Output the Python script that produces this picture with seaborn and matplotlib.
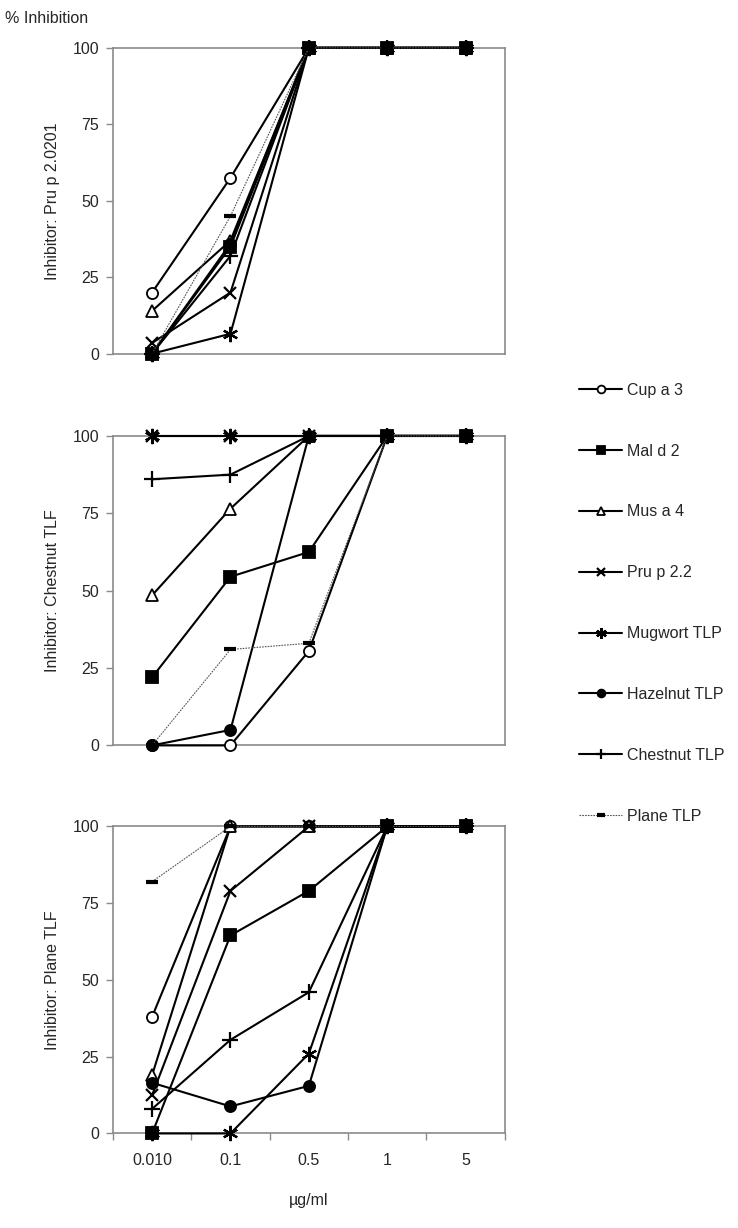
import pandas as pd
import seaborn as sns
import matplotlib.pyplot as plt
from matplotlib.lines import Line2D

# concentrations (categorical x axis)
conc = ["0.010", "0.1", "0.5", "1", "5"]
allergens = ["Cup a 3", "Mal d 2", "Mus a 4", "Pru p 2.2",
             "Mugwort TLP", "Hazelnut TLP", "Chestnut TLP", "Plane TLP"]

# % inhibition, inhibitor Pru p 2.0201
pru_cup = [20, 57.5, 100, 100, 100]
pru_mal = [0, 35, 100, 100, 100]
pru_mus = [14, 37, 100, 100, 100]
pru_pru = [3.5, 20, 100, 100, 100]
pru_mug = [0, 6.5, 100, 100, 100]
pru_haz = [0, 36, 100, 100, 100]
pru_che = [0, 32, 100, 100, 100]
pru_pla = [0, 45, 100, 100, 100]

# inhibitor Chestnut TLF
che_cup = [0, 0, 30.5, 100, 100]
che_mal = [22, 54.5, 62.5, 100, 100]
che_mus = [48.5, 76.5, 100, 100, 100]
che_pru = [100, 100, 100, 100, 100]
che_mug = [100, 100, 100, 100, 100]
che_haz = [0, 5, 100, 100, 100]
che_che = [86, 87.5, 100, 100, 100]
che_pla = [0, 31, 33, 100, 100]

# inhibitor Plane TLF
pla_cup = [38, 100, 100, 100, 100]
pla_mal = [0, 64.5, 79, 100, 100]
pla_mus = [19, 100, 100, 100, 100]
pla_pru = [12.5, 79, 100, 100, 100]
pla_mug = [0, 0, 26, 100, 100]
pla_haz = [16.5, 8.8, 15.5, 100, 100]
pla_che = [8, 30.5, 46, 100, 100]
pla_pla = [82, 100, 100, 100, 100]

panels = [
    ("Inhibitor: Pru p 2.0201", [pru_cup, pru_mal, pru_mus, pru_pru, pru_mug, pru_haz, pru_che, pru_pla]),
    ("Inhibitor: Chestnut TLF", [che_cup, che_mal, che_mus, che_pru, che_mug, che_haz, che_che, che_pla]),
    ("Inhibitor: Plane TLF", [pla_cup, pla_mal, pla_mus, pla_pru, pla_mug, pla_haz, pla_che, pla_pla]),
]

styles = {
    "Cup a 3": dict(marker="o", mfc="white", ms=8),
    "Mal d 2": dict(marker="s", mfc="black", ms=8),
    "Mus a 4": dict(marker="^", mfc="white", ms=8),
    "Pru p 2.2": dict(marker="x", mfc="black", ms=9, mew=1.6),
    "Mugwort TLP": dict(marker=(6, 2, 0), mfc="black", ms=11, mew=1.6),
    "Hazelnut TLP": dict(marker="o", mfc="black", ms=8),
    "Chestnut TLP": dict(marker="+", mfc="black", ms=11, mew=1.6),
    "Plane TLP": dict(marker="_", mfc="black", ms=8, mew=3),
}

sns.set_style("white")
plt.rcParams["font.family"] = ["Liberation Sans", "DejaVu Sans"]
fs = 11.5
plt.rcParams["font.size"] = fs

fig = plt.figure(figsize=(7.38, 12.28), dpi=100)
boxes = [(0.153, 0.712, 0.531, 0.249),
         (0.153, 0.393, 0.531, 0.252),
         (0.153, 0.077, 0.531, 0.250)]
gray = "#8a8a8a"

for k, (title, series) in enumerate(panels):
    ax = fig.add_axes(boxes[k])
    for name, vals in zip(allergens, series):
        df = pd.DataFrame({"x": range(len(conc)), "y": vals})
        st = styles[name]
        if name == "Plane TLP":
            lw, ls, col = 0.8, (0, (1.5, 1)), "#555555"
        else:
            lw, ls, col = 1.5, "-", "black"
        sns.lineplot(data=df, x="x", y="y", ax=ax, color=col, lw=lw,
                     linestyle=ls, marker=st["marker"], markersize=st["ms"],
                     markerfacecolor=st["mfc"], markeredgecolor="black",
                     markeredgewidth=st.get("mew", 1.3), clip_on=False,
                     zorder=3)
    ax.set_xlim(-0.5, 4.5)
    ax.set_ylim(0, 100)
    ax.set_yticks([0, 25, 50, 75, 100])
    ax.set_ylabel(title, fontsize=fs, labelpad=9)
    ax.set_xlabel("")
    for sp in ax.spines.values():
        sp.set_color(gray)
        sp.set_linewidth(1.2)
        sp.set_visible(True)
    ax.tick_params(axis="y", length=5, width=1, color=gray, direction="out",
                   left=True, pad=5, labelsize=fs)
    if k == 2:
        ax.set_xticks([-0.5, 0.5, 1.5, 2.5, 3.5, 4.5])
        ax.set_xticklabels([])
        ax.set_xticks(range(len(conc)), minor=True)
        ax.set_xticklabels(conc, minor=True)
        ax.tick_params(axis="x", which="major", length=5, width=1, color=gray,
                       direction="out", bottom=True)
        ax.tick_params(axis="x", which="minor", length=0, pad=14, labelsize=fs)
        ax.set_xlabel("\u00b5g/ml", fontsize=fs, labelpad=18)
    else:
        ax.set_xticks([])

fig.text(0.007, 0.985, "% Inhibition", fontsize=fs, va="center")

handles = []
for name in allergens:
    st = styles[name]
    if name == "Plane TLP":
        lw, ls, col = 0.8, (0, (1.5, 1)), "#555555"
    else:
        lw, ls, col = 1.5, "-", "black"
    handles.append(Line2D([], [], color=col, lw=lw, linestyle=ls,
                          marker=st["marker"], markersize=st["ms"] * 0.7,
                          markerfacecolor=st["mfc"], markeredgecolor="black",
                          markeredgewidth=st.get("mew", 1.3)))
fig.legend(handles, allergens, loc="upper left", bbox_to_anchor=(0.765, 0.70),
           frameon=False, fontsize=fs, labelspacing=2.87, handlelength=2.7,
           handletextpad=0.3)

fig.savefig("out.png", dpi=100)
